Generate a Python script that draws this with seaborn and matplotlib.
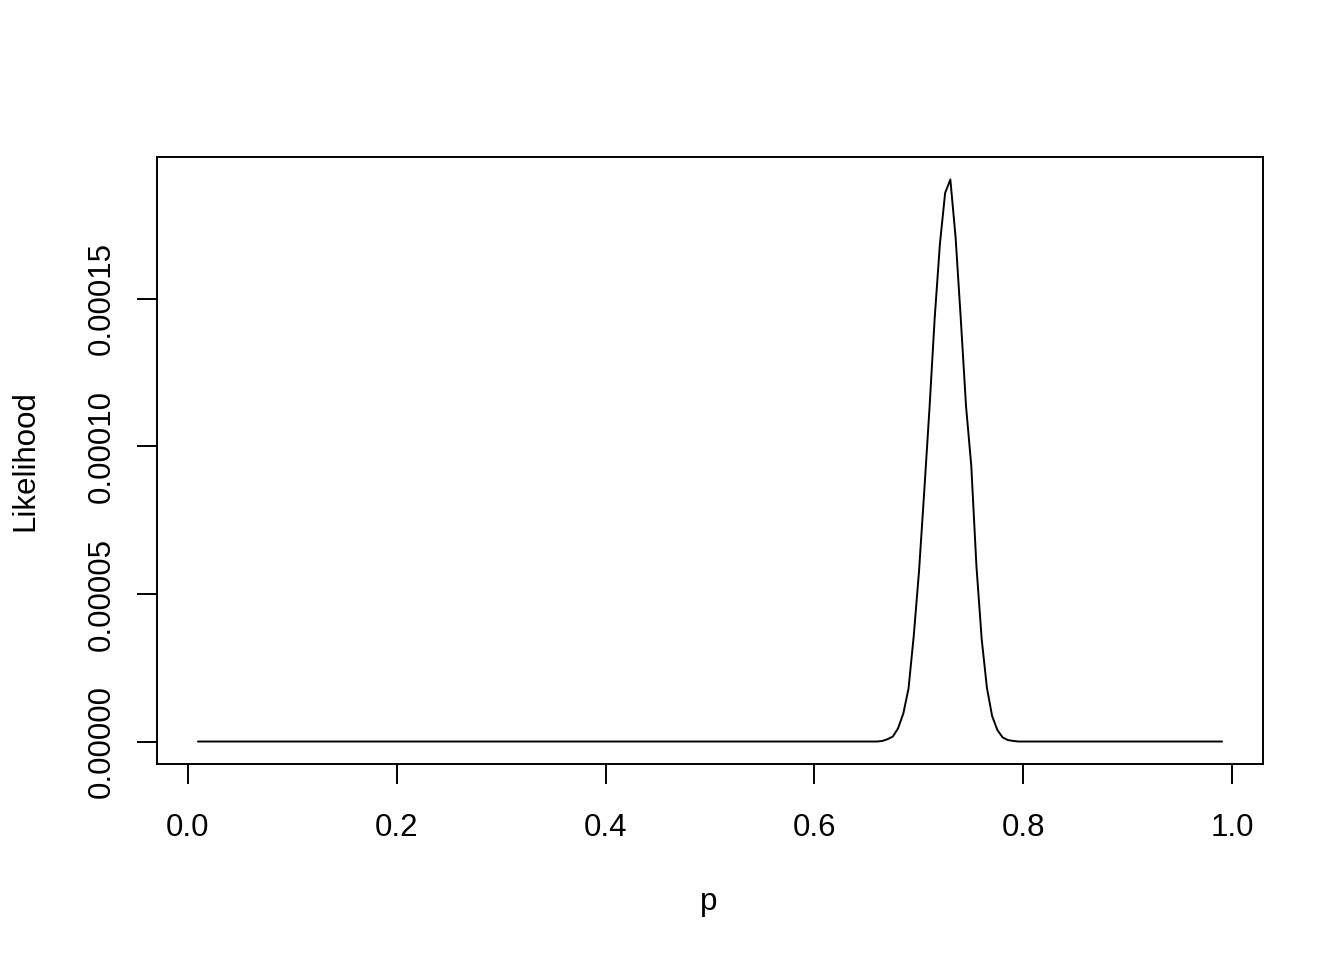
import numpy as np
import pandas as pd
import matplotlib
matplotlib.use('Agg')
import matplotlib.pyplot as plt
import seaborn as sns

# p grid 0.010 .. 0.990 (step 0.005); likelihood, units of 1e-4
p_values = [round(0.01 + 0.005 * i, 3) for i in range(197)]
peak_p = [0.665, 0.670, 0.675, 0.680, 0.685, 0.690, 0.695, 0.700, 0.705, 0.710,
          0.715, 0.720, 0.725, 0.730, 0.735, 0.740, 0.745, 0.750, 0.755, 0.760,
          0.765, 0.770, 0.775, 0.780, 0.785, 0.790]
peak_lik = [0.002, 0.008, 0.017, 0.045, 0.095, 0.180, 0.359, 0.576, 0.847, 1.127,
            1.434, 1.686, 1.859, 1.905, 1.710, 1.432, 1.137, 0.936, 0.593, 0.347,
            0.182, 0.086, 0.039, 0.014, 0.005, 0.002]

x_ticks = [0.0, 0.2, 0.4, 0.6, 0.8, 1.0]
x_tick_labels = ['0.0', '0.2', '0.4', '0.6', '0.8', '1.0']
y_ticks = [0.0, 0.00005, 0.00010, 0.00015]
y_tick_labels = ['0.00000', '0.00005', '0.00010', '0.00015']

lik = dict(zip(peak_p, peak_lik))
df = pd.DataFrame({'p': p_values,
                   'Likelihood': [lik.get(p, 0.0) * 1e-4 for p in p_values]})

sns.set_style('white')
plt.rcParams['font.family'] = ['Liberation Sans', 'DejaVu Sans']

fig = plt.figure(figsize=(13.44, 9.6), dpi=100)
ax = fig.add_axes([157 / 1344, 1 - 764 / 960, 1106 / 1344, 607 / 960])

sns.lineplot(data=df, x='p', y='Likelihood', color='black', linewidth=1.4, ax=ax)

# R style 4% padding of the data range
xr = max(p_values) - min(p_values)
ax.set_xlim(min(p_values) - 0.04 * xr, max(p_values) + 0.04 * xr)
ymax = df['Likelihood'].max()
ax.set_ylim(-0.04 * ymax, 1.04 * ymax)

ax.set_xticks(x_ticks)
ax.set_xticklabels(x_tick_labels)
ax.set_yticks(y_ticks)
ax.set_yticklabels(y_tick_labels, rotation=90, va='center')
ax.tick_params(axis='both', which='major', bottom=True, left=True, direction='out',
               length=14.4, width=1.4, labelsize=22.5, color='black', labelcolor='black')
ax.tick_params(axis='x', pad=21)
ax.tick_params(axis='y', pad=14.5)

for s in ax.spines.values():
    s.set_color('black')
    s.set_linewidth(1.4)

ax.set_xlabel('p', fontsize=22.5, color='black', va='center')
ax.set_ylabel('Likelihood', fontsize=22.5, color='black', va='center')
ax.xaxis.set_label_coords(0.499, (764 - 902) / 607)
ax.yaxis.set_label_coords((25 - 157) / 1106, 0.5)

fig.savefig('out.png', dpi=100, facecolor='white')
